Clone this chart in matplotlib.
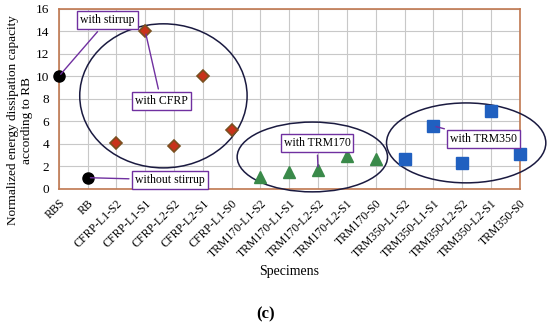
import numpy as np
import matplotlib
matplotlib.use("Agg")
from matplotlib import pyplot as plt
from matplotlib.patches import Ellipse

plt.rcParams['font.family'] = ['Liberation Serif', 'DejaVu Serif']

# specimens and normalized energy dissipation
specimens = ["RBS", "RB", "CFRP-L1-S2", "CFRP-L1-S1", "CFRP-L2-S2", "CFRP-L2-S1",
             "CFRP-L1-S0", "TRM170-L1-S2", "TRM170-L1-S1", "TRM170-L2-S2",
             "TRM170-L2-S1", "TRM170-S0", "TRM350-L1-S2", "TRM350-L1-S1",
             "TRM350-L2-S2", "TRM350-L2-S1", "TRM350-S0"]
ref_vals = [10.0, 1.0]
cfrp_vals = [4.1, 14.0, 3.8, 10.0, 5.2]
trm170_vals = [1.1, 1.5, 1.7, 2.9, 2.7]
trm350_vals = [2.7, 5.6, 2.3, 6.9, 3.1]

x = np.arange(len(specimens))
x_ref = x[0:2]
x_cfrp = x[2:7]
x_t170 = x[7:12]
x_t350 = x[12:17]

fig = plt.figure(figsize=(5.5, 3.28), dpi=100)
ax = fig.add_axes([0.107, 0.424, 0.838, 0.549])

ax.plot(x_ref, ref_vals, "o", color="black", ms=8, zorder=5, clip_on=False)
ax.plot(x_cfrp, cfrp_vals, "D", mfc="#c8321a", mec="#7a5020", mew=1.2, ms=6.5, zorder=5)
ax.plot(x_t170, trm170_vals, "^", color="#3a8a4a", ms=8, zorder=5)
ax.plot(x_t350, trm350_vals, "s", color="#2060c0", ms=8, zorder=5, clip_on=False)

ax.set_xlim(0, 16)
ax.set_ylim(0, 16)
ax.set_yticks(np.arange(0, 17, 2))
ax.set_xticks(x)
ax.set_xticklabels(specimens, rotation=45, ha="right", rotation_mode="anchor", fontsize=8.5)
ax.tick_params(axis="y", labelsize=9.5, length=0, pad=7)
ax.tick_params(axis="x", length=0, pad=6)
ax.grid(True, color="#c8c8c8", lw=0.8)
ax.set_axisbelow(True)
for s in ax.spines.values():
    s.set_color("#c07850")
    s.set_linewidth(1.2)

ax.set_ylabel("Normalized energy dissipation capacity\naccording to RB", fontsize=9.5)
ax.yaxis.set_label_coords(-0.056, 0.38)
ax.set_xlabel("Specimens", fontsize=10, labelpad=4)

# group ellipses
ell_col = "#1a1a40"
for cx, cy, w, h in [(3.63, 8.27, 5.81, 12.8), (8.8, 2.84, 5.22, 6.2), (14.14, 4.09, 5.53, 7.1)]:
    ax.add_patch(Ellipse((cx, cy), w, h, fill=False, ec=ell_col, lw=1.1, clip_on=False, zorder=4))

# labels with leader lines
box = dict(boxstyle="square,pad=0.25", fc="white", ec="#7030a0", lw=1.0)
arrow = dict(arrowstyle="-", color="#7030a0", lw=1.0)
ax.annotate("with stirrup", xy=(0, 10), xytext=(1.69, 15.0), fontsize=8.5,
            ha="center", va="center", bbox=box, arrowprops=arrow, zorder=6)
ax.annotate("with CFRP", xy=(3, 14), xytext=(3.55, 7.8), fontsize=8.5,
            ha="center", va="center", bbox=box, arrowprops=arrow, zorder=6)
ax.annotate("without stirrup", xy=(1, 1.0), xytext=(3.86, 0.8), fontsize=8.5,
            ha="center", va="center", bbox=box, arrowprops=arrow, zorder=6)
ax.annotate("with TRM170", xy=(9, 1.7), xytext=(8.96, 4.09), fontsize=8.5,
            ha="center", va="center", bbox=box, arrowprops=arrow, zorder=6)
ax.annotate("with TRM350", xy=(13, 5.6), xytext=(14.73, 4.44), fontsize=8.5,
            ha="center", va="center", bbox=box, arrowprops=arrow, zorder=6)

fig.text(0.482, 0.04, "(c)", fontsize=12, fontweight="bold", ha="center", va="center")

fig.savefig("out.png", dpi=100)
